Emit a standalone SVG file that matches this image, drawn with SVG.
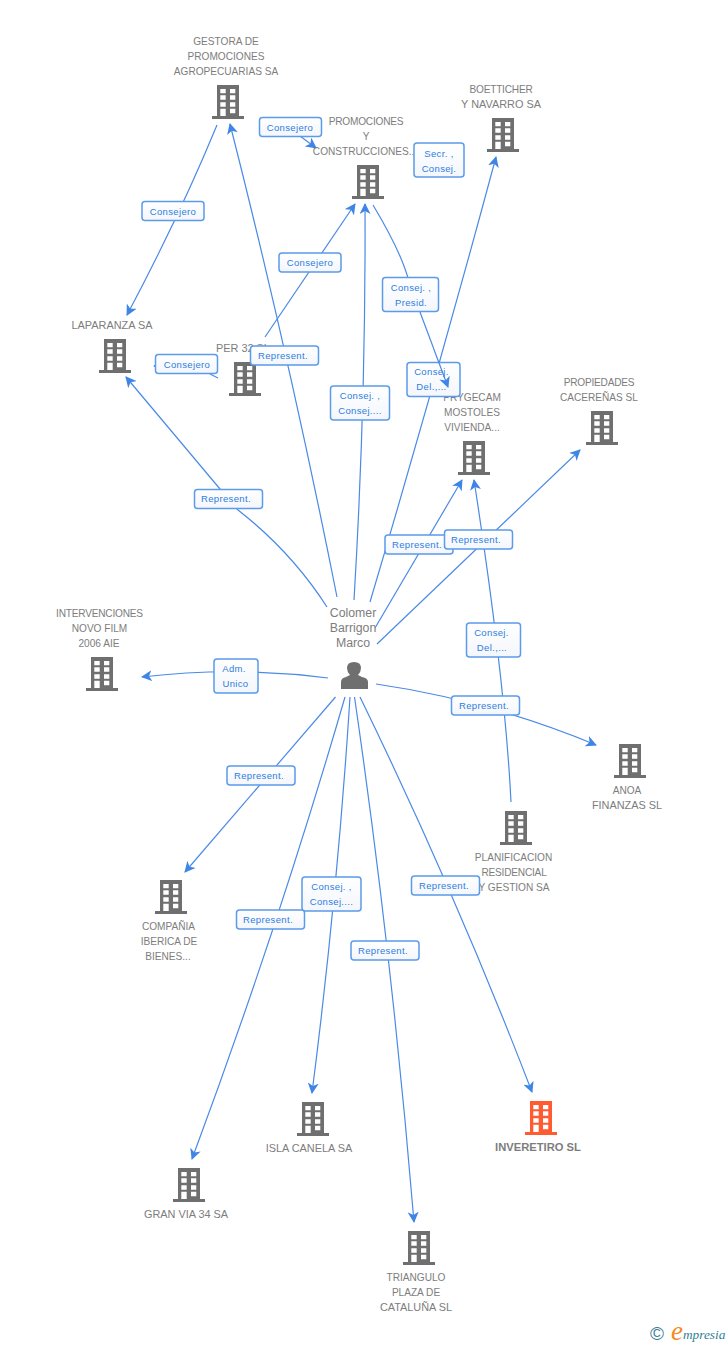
<svg xmlns="http://www.w3.org/2000/svg" width="728" height="1345" viewBox="0 0 728 1345">
<style>
text{font-family:"Liberation Sans",Arial,sans-serif}
.n{font-size:10.1px;fill:#7d7d7d;text-anchor:middle}
.w{font-size:10.9px}
.t{letter-spacing:-.2px}
.l{font-size:9.5px;fill:#2f7de1;text-anchor:middle;letter-spacing:.35px}
.b{fill:url(#lg);stroke:#5b9bea;stroke-width:1.5}
.c{fill:none;stroke:#4a8ae6;stroke-width:1.2;marker-end:url(#a)}
.s{fill:none;stroke:#4a8ae6;stroke-width:1.2}
</style>
<defs>
<linearGradient id="lg" x1="0" y1="0" x2="0" y2="1"><stop offset="0" stop-color="#fff"/><stop offset="1" stop-color="#f3f6fb"/></linearGradient>
<marker id="a" viewBox="0 0 11 11" refX="10" refY="5.500" markerWidth="11" markerHeight="11" markerUnits="userSpaceOnUse" orient="auto"><path d="M0 0L11 5.500L0 11L3 5.500Z" fill="#3f85e6"/></marker>
<path id="bd" fill-rule="evenodd" d="M5 0H27V31H32V34H0V31H5ZM8.300 4V8.300H13.700V4ZM18 4V8.300H23.300V4ZM8.300 10.300V14.700H13.700V10.300ZM18 10.300V14.700H23.300V10.300ZM8.300 17.300V21.700H13.700V17.300ZM18 17.300V21.700H23.300V17.300ZM8.300 23.700V31H13.700V23.700ZM18 23.700V28.300H23.300V23.700Z"/>
</defs>
<rect width="728" height="1345" fill="#fff"/>
<g id="connectors">
<path class="c" d="M337 597Q290 360 230 124"/>
<path class="c" d="M217 125Q180 215 127 315"/>
<path class="c" d="M300 136L316 148"/>
<path class="c" d="M265 337L355 204"/>
<path class="c" d="M354 600Q366 400 365 204"/>
<path class="s" d="M373 205Q400 250 408 278"/>
<path class="c" d="M370 602Q436 380 496 157"/>
<path class="c" d="M375 628L462 480"/>
<path class="c" d="M377 644L580 450"/>
<path class="c" d="M511 802Q505 680 474 480"/>
<path class="c" d="M327 607C300 565 270 535 238 510L220 489L126 377"/>
<path class="c" d="M328 678Q235 666 142 677"/>
<path class="c" d="M376 684Q487 700 596 745"/>
<path class="c" d="M335.500 697L185 872"/>
<path class="c" d="M345 697Q278 928 192 1159"/>
<path class="c" d="M350 697Q337.500 894 312 1093"/>
<path class="c" d="M354.500 697Q392 955 414 1222"/>
<path class="c" d="M360 697Q456 894 532 1092"/>
<path class="s" d="M210 374L218 378"/>
<path class="c" d="M156 366L154 366"/>
</g>
<g id="n-gestora" fill="#6f6f6f"><use href="#bd" x="212" y="85"/><text class="n" x="226" y="45">GESTORA DE</text><text class="n" x="226" y="60">PROMOCIONES</text><text class="n" x="226" y="75">AGROPECUARIAS SA</text></g>
<g id="n-promociones" fill="#6f6f6f"><use href="#bd" x="352" y="165"/><text class="n t" x="366" y="125">PROMOCIONES</text><text class="n" x="366" y="140">Y</text><text class="n" x="365" y="155">CONSTRUCCIONES...</text></g>
<g id="n-boetticher" fill="#6f6f6f"><use href="#bd" x="487" y="118"/><text class="n t" x="501" y="93">BOETTICHER</text><text class="n w" x="501" y="108">Y NAVARRO SA</text></g>
<g id="n-laparanza" fill="#6f6f6f"><use href="#bd" x="99" y="339"/><text class="n w" x="112" y="329">LAPARANZA SA</text></g>
<g id="n-per32" fill="#6f6f6f"><use href="#bd" x="229" y="362"/><text class="n w" x="243" y="352">PER 32 SL</text></g>
<g id="n-prygecam" fill="#6f6f6f"><use href="#bd" x="458" y="441"/><text class="n" x="472" y="401">PRYGECAM</text><text class="n" x="472" y="416">MOSTOLES</text><text class="n" x="472" y="431">VIVIENDA...</text></g>
<g id="n-propiedades" fill="#6f6f6f"><use href="#bd" x="586" y="411"/><text class="n t" x="599" y="386">PROPIEDADES</text><text class="n" x="599" y="401">CACEREÑAS SL</text></g>
<g id="n-intervenciones" fill="#6f6f6f"><use href="#bd" x="86" y="657"/><text class="n t" x="99.500" y="617">INTERVENCIONES</text><text class="n" x="99.500" y="632">NOVO FILM</text><text class="n" x="99" y="647">2006 AIE</text></g>
<g id="n-anoa" fill="#6f6f6f"><use href="#bd" x="614" y="744"/><text class="n" x="627" y="794">ANOA</text><text class="n w" x="627" y="809">FINANZAS SL</text></g>
<g id="n-planificacion" fill="#6f6f6f"><use href="#bd" x="500" y="811"/><text class="n" x="513.500" y="861">PLANIFICACION</text><text class="n t" x="514" y="876">RESIDENCIAL</text><text class="n" x="514" y="891">Y GESTION SA</text></g>
<g id="n-compania" fill="#6f6f6f"><use href="#bd" x="155" y="880"/><text class="n" x="168.500" y="930">COMPAÑIA</text><text class="n" x="169" y="945">IBERICA DE</text><text class="n" x="168" y="960">BIENES...</text></g>
<g id="n-isla" fill="#6f6f6f"><use href="#bd" x="297" y="1102"/><text class="n w" x="309" y="1152">ISLA CANELA SA</text></g>
<g id="n-granvia" fill="#6f6f6f"><use href="#bd" x="173" y="1168"/><text class="n w" x="186" y="1218">GRAN VIA 34 SA</text></g>
<g id="n-triangulo" fill="#6f6f6f"><use href="#bd" x="403" y="1231"/><text class="n" x="416" y="1281">TRIANGULO</text><text class="n" x="416" y="1296">PLAZA DE</text><text class="n w" x="416" y="1311">CATALUÑA SL</text></g>
<g id="n-inveretiro" fill="#ff5a30"><use href="#bd" x="525" y="1101"/><text class="n" x="538" y="1151" style="font-weight:bold;font-size:11.200px">INVERETIRO SL</text></g>
<g id="n-colomer" fill="#6f6f6f"><text class="n" x="353" y="617" style="font-size:12.300px">Colomer</text><text class="n" x="353" y="632" style="font-size:12.300px">Barrigon</text><text class="n" x="353" y="647" style="font-size:12.300px">Marco</text><path d="M341 689V682Q341 678 346 677L350 675Q347 672 347 668Q347 662 354 662Q361 662 361 668Q361 672 358 675L362 677Q368 678 368 682V689Z"/></g>
<g id="labels">
<g><rect class="b" x="142" y="201.500" width="62" height="19" rx="3"/><text class="l" x="173" y="214.500">Consejero</text></g>
<g><rect class="b" x="259.500" y="117.500" width="62" height="19" rx="3"/><text class="l" x="290" y="131">Consejero</text></g>
<g><rect class="b" x="414" y="143" width="50" height="34" rx="3"/><text class="l" x="439" y="157">Secr. ,</text><text class="l" x="439" y="172">Consej.</text></g>
<g><rect class="b" x="279" y="253" width="62" height="19" rx="3"/><text class="l" x="310" y="266">Consejero</text></g>
<g><rect class="b" x="155.500" y="354.500" width="62" height="19" rx="3"/><text class="l" x="187" y="368">Consejero</text></g>
<g><rect class="b" x="250.500" y="346" width="68" height="19" rx="3"/><text class="l" x="283" y="359">Represent.</text></g>
<g><rect class="b" x="382.500" y="277.500" width="56" height="34" rx="3"/><text class="l" x="411" y="291">Consej. ,</text><text class="l" x="411" y="306">Presid.</text></g>
<g><rect class="b" x="330.500" y="386" width="59" height="34" rx="3"/><text class="l" x="360" y="399">Consej. ,</text><text class="l" x="360" y="414">Consej....</text></g>
<g><rect class="b" x="407" y="362.500" width="53" height="34" rx="3"/><text class="l" x="431.500" y="375">Consej.</text><text class="l" x="431.500" y="390">Del.,...</text></g>
<g><rect class="b" x="194.500" y="489.500" width="68" height="19" rx="3"/><text class="l" x="226" y="502">Represent.</text></g>
<g><rect class="b" x="385" y="535" width="68" height="19" rx="3"/><text class="l" x="417" y="548">Represent.</text></g>
<g><rect class="b" x="444.500" y="530" width="68" height="19" rx="3"/><text class="l" x="476" y="543">Represent.</text></g>
<g><rect class="b" x="466.500" y="623" width="54" height="34" rx="3"/><text class="l" x="491.500" y="636">Consej.</text><text class="l" x="492" y="651">Del.,...</text></g>
<g><rect class="b" x="214" y="659" width="44" height="34" rx="3"/><text class="l" x="234" y="672">Adm.</text><text class="l" x="235.500" y="687">Unico</text></g>
<g><rect class="b" x="451.500" y="696" width="68" height="19" rx="3"/><text class="l" x="484" y="709">Represent.</text></g>
<g><rect class="b" x="227" y="766" width="68" height="19" rx="3"/><text class="l" x="259" y="779">Represent.</text></g>
<g><rect class="b" x="302" y="877" width="59" height="34" rx="3"/><text class="l" x="331.500" y="890">Consej. ,</text><text class="l" x="331.500" y="905">Consej....</text></g>
<g><rect class="b" x="411.500" y="876" width="68" height="19" rx="3"/><text class="l" x="444" y="889">Represent.</text></g>
<g><rect class="b" x="236.500" y="910" width="68" height="19" rx="3"/><text class="l" x="268" y="923">Represent.</text></g>
<g><rect class="b" x="351" y="941" width="68" height="19" rx="3"/><text class="l" x="383" y="954">Represent.</text></g>
</g>
<g id="connector-top"><path class="c" d="M420 312L448 387"/></g>
<g id="logo"><text x="650" y="1340" style="font-size:19px;fill:#3f7f95">©</text><text x="671" y="1340" style="font-family:'Liberation Serif',serif;font-style:italic;font-size:27px;fill:#f58a1f">e</text><text x="683" y="1339" style="font-family:'Liberation Serif',serif;font-style:italic;font-size:13.300px;fill:#2f7f95">mpresia</text></g>
</svg>
